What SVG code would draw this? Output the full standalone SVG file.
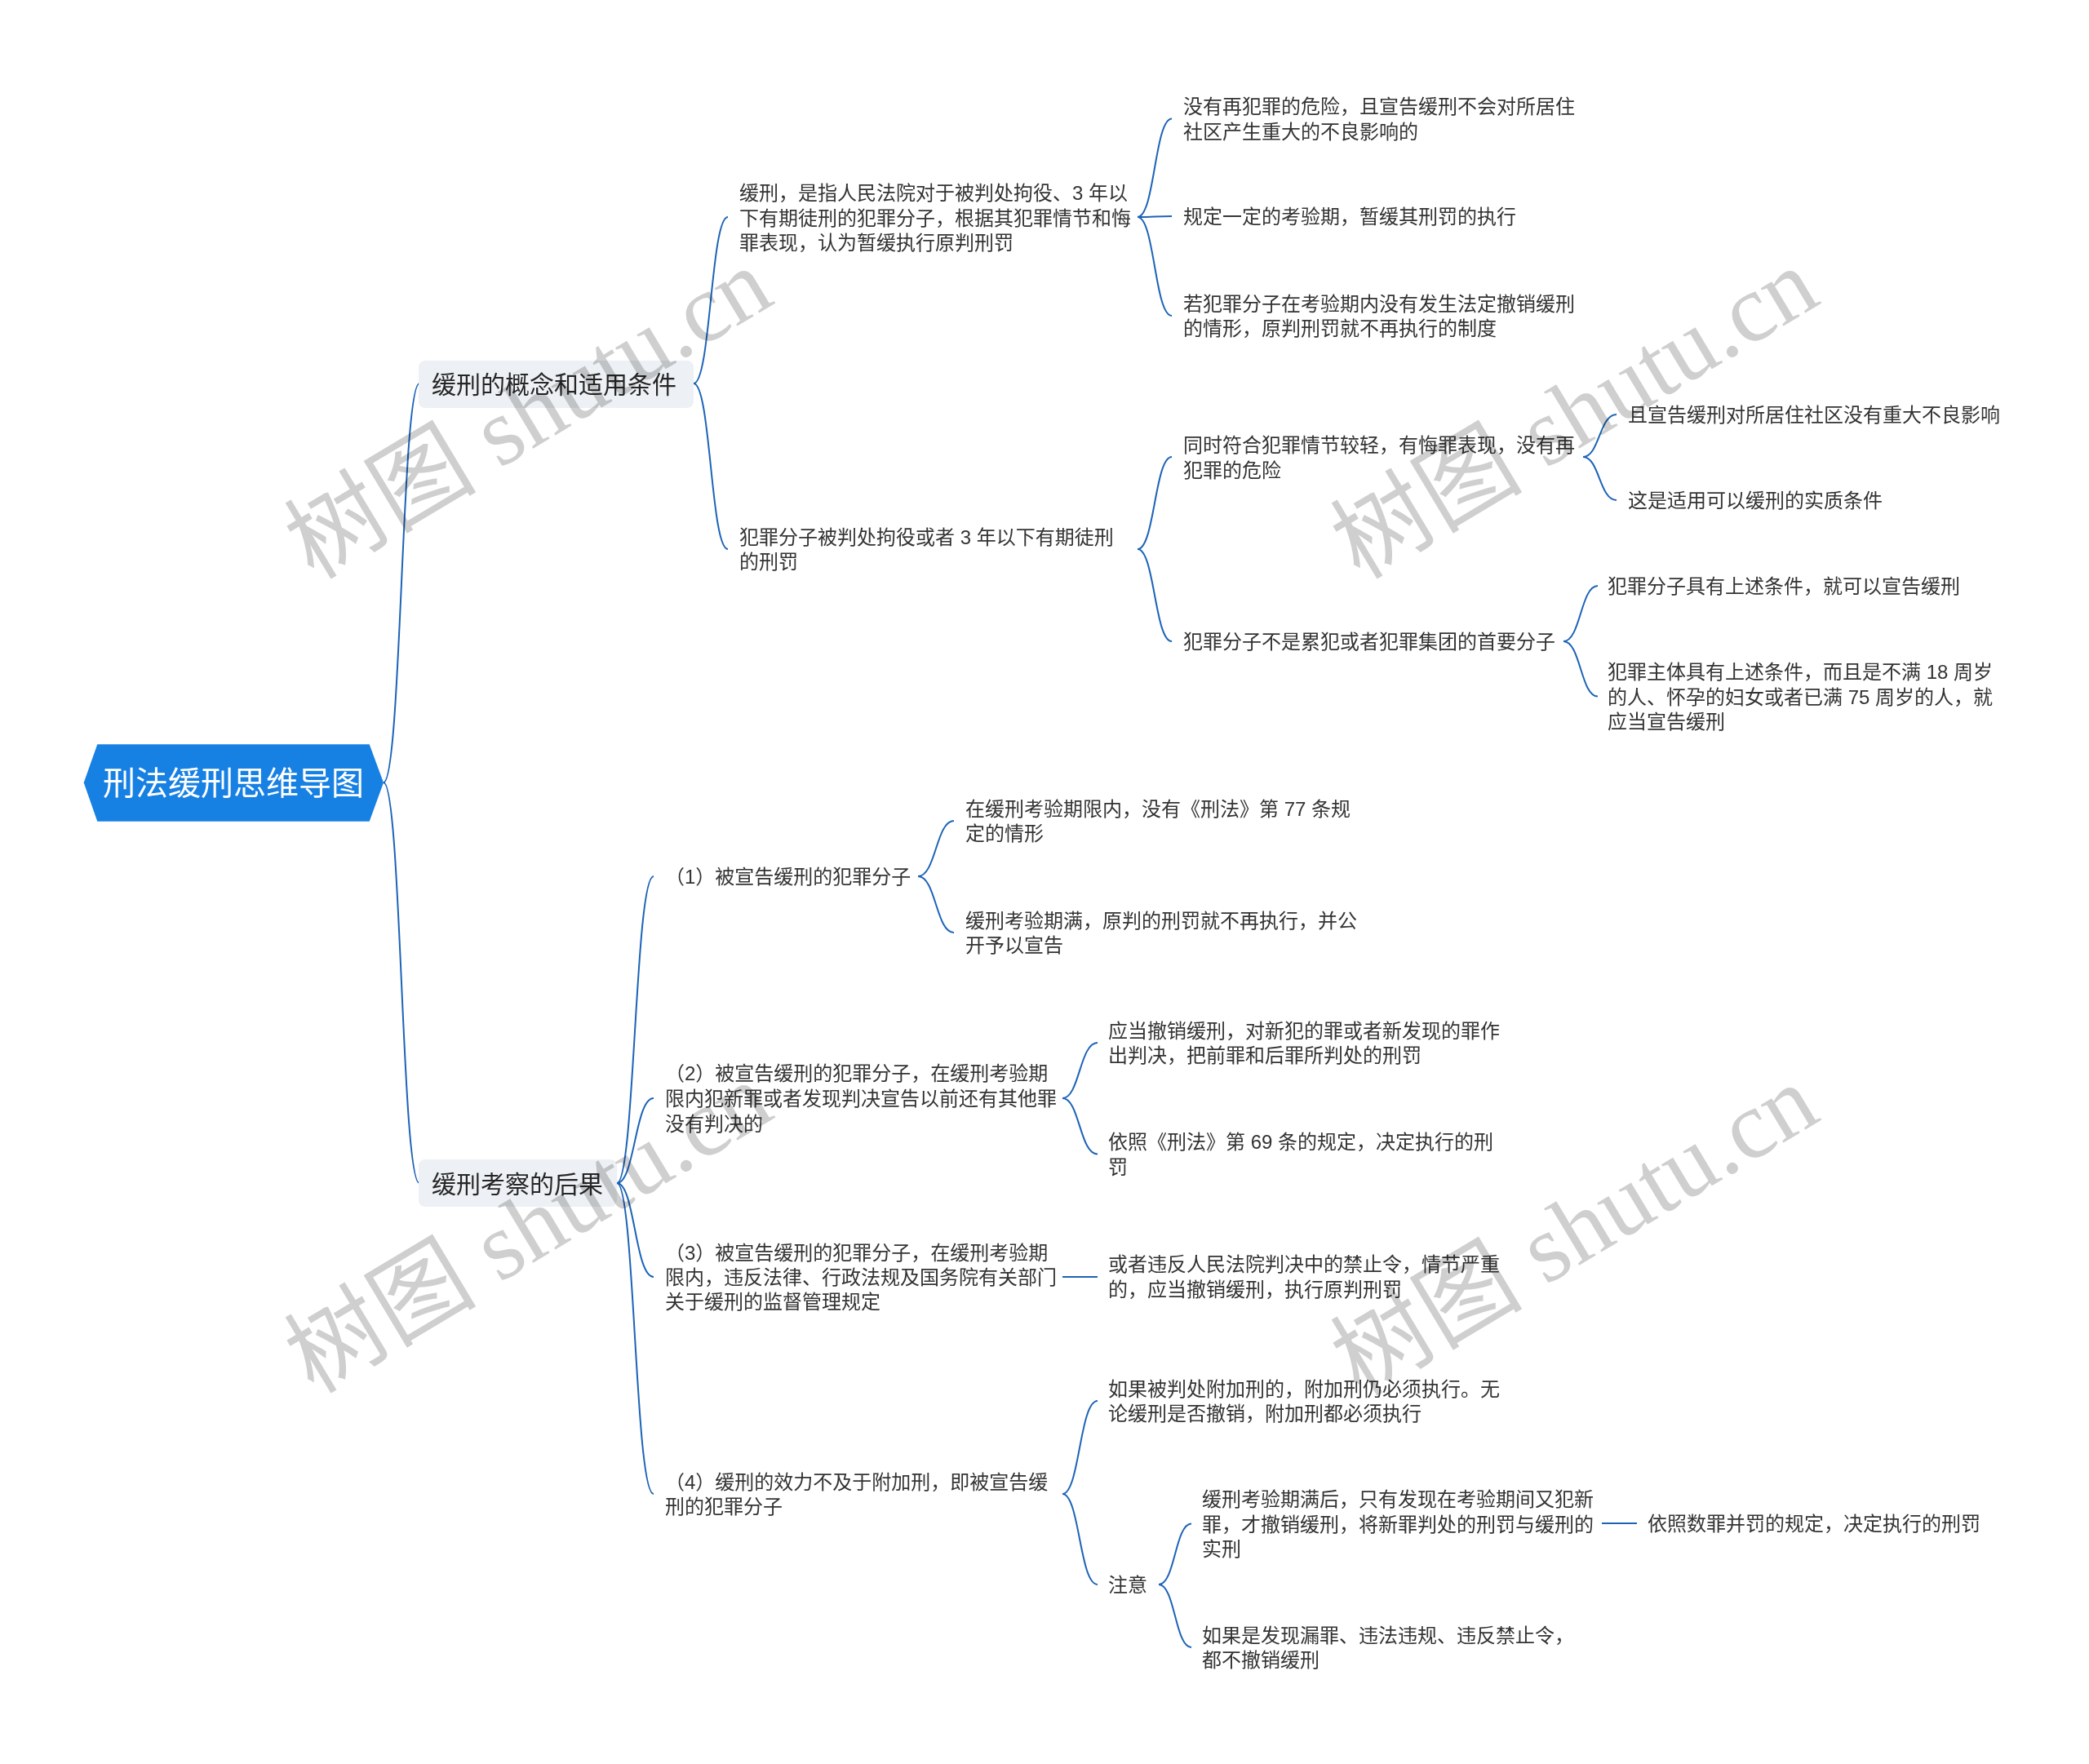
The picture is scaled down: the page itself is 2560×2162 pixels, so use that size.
<svg xmlns="http://www.w3.org/2000/svg" width="2560" height="2162" viewBox="0 0 2560 2162">
<style>
.t{font-family:'Liberation Sans','Noto Sans CJK SC',sans-serif;font-size:24px;fill:#333}
.b{font-family:'Liberation Sans','Noto Sans CJK SC',sans-serif;font-size:30px;fill:#262626}
.r{font-family:'Liberation Sans','Noto Sans CJK SC',sans-serif;font-size:40px;fill:#fff}
.c{fill:none;stroke:#1c63b7;stroke-width:2}
.br{fill:#edf0f4}
.wm{font-family:'Liberation Serif','Noto Sans CJK SC',serif;font-size:118px;fill:#cfcfcf;mix-blend-mode:multiply}
</style>
<rect width="2560" height="2162" fill="#fff"/>
<g id="connectors">
<path class="c" d="M470 959 C492 959 492 470 514 470"/>
<path class="c" d="M470 959 C492 959 492 1450 514 1450"/>
<path class="c" d="M850 470 C871 470 871 266 892 266"/>
<path class="c" d="M850 470 C871 470 871 673 892 673"/>
<path class="c" d="M1394 266 C1415 266 1415 145.5 1436 145.5"/>
<path class="c" d="M1394 266 C1415 266 1415 265 1436 265"/>
<path class="c" d="M1394 266 C1415 266 1415 387 1436 387"/>
<path class="c" d="M1394 673 C1415 673 1415 560 1436 560"/>
<path class="c" d="M1394 673 C1415 673 1415 786 1436 786"/>
<path class="c" d="M1940 560 C1960 560 1960 508 1981 508"/>
<path class="c" d="M1940 560 C1960 560 1960 613 1981 613"/>
<path class="c" d="M1916 786 C1937 786 1937 718 1958 718"/>
<path class="c" d="M1916 786 C1937 786 1937 853.5 1958 853.5"/>
<path class="c" d="M756 1450 C778 1450 778 1074 801 1074"/>
<path class="c" d="M756 1450 C778 1450 778 1346 801 1346"/>
<path class="c" d="M756 1450 C778 1450 778 1565 801 1565"/>
<path class="c" d="M756 1450 C778 1450 778 1831 801 1831"/>
<path class="c" d="M1125 1074 C1147 1074 1147 1006 1169 1006"/>
<path class="c" d="M1125 1074 C1147 1074 1147 1143 1169 1143"/>
<path class="c" d="M1302 1346 C1323 1346 1323 1278 1345 1278"/>
<path class="c" d="M1302 1346 C1323 1346 1323 1414.5 1345 1414.5"/>
<path class="c" d="M1302 1565 L1345 1565"/>
<path class="c" d="M1302 1831 C1323 1831 1323 1717 1345 1717"/>
<path class="c" d="M1302 1831 C1323 1831 1323 1942 1345 1942"/>
<path class="c" d="M1420 1942 C1440 1942 1440 1867.5 1460 1867.5"/>
<path class="c" d="M1420 1942 C1440 1942 1440 2019 1460 2019"/>
<path class="c" d="M1963 1867 L2006 1867"/>
</g>
<g id="root">
<polygon points="102.7,959.3 119.3,912.3 452.7,912.3 470,959.3 452.7,1006.7 119.3,1006.7" fill="#1780e3"/>
<text class="r" x="286" y="974" text-anchor="middle">刑法缓刑思维导图</text>
</g>
<g id="b1">
<rect class="br" x="513" y="442" width="337" height="58" rx="8"/>
<text class="b" x="529" y="481.5">缓刑的概念和适用条件</text>
</g>
<g id="b2">
<rect class="br" x="513" y="1421" width="243" height="58" rx="8"/>
<text class="b" x="529" y="1461.5">缓刑考察的后果</text>
</g>
<g id="nA"><text class="t"><tspan x="906" y="245">缓刑，是指人民法院对于被判处拘役、3 年以</tspan><tspan x="906" y="275.5">下有期徒刑的犯罪分子，根据其犯罪情节和悔</tspan><tspan x="906" y="306">罪表现，认为暂缓执行原判刑罚</tspan></text></g>
<g id="nB"><text class="t"><tspan x="906" y="667">犯罪分子被判处拘役或者 3 年以下有期徒刑</tspan><tspan x="906" y="697">的刑罚</tspan></text></g>
<g id="nA1"><text class="t"><tspan x="1450" y="139">没有再犯罪的危险，且宣告缓刑不会对所居住</tspan><tspan x="1450" y="170">社区产生重大的不良影响的</tspan></text></g>
<g id="nA2"><text class="t" x="1450" y="274">规定一定的考验期，暂缓其刑罚的执行</text></g>
<g id="nA3"><text class="t"><tspan x="1450" y="381">若犯罪分子在考验期内没有发生法定撤销缓刑</tspan><tspan x="1450" y="411">的情形，原判刑罚就不再执行的制度</tspan></text></g>
<g id="nB1"><text class="t"><tspan x="1450" y="554">同时符合犯罪情节较轻，有悔罪表现，没有再</tspan><tspan x="1450" y="585">犯罪的危险</tspan></text></g>
<g id="nB2"><text class="t" x="1450" y="795">犯罪分子不是累犯或者犯罪集团的首要分子</text></g>
<g id="nB1a"><text class="t" x="1995" y="517">且宣告缓刑对所居住社区没有重大不良影响</text></g>
<g id="nB1b"><text class="t" x="1995" y="622">这是适用可以缓刑的实质条件</text></g>
<g id="nB2a"><text class="t" x="1970" y="727">犯罪分子具有上述条件，就可以宣告缓刑</text></g>
<g id="nB2b"><text class="t"><tspan x="1970" y="832">犯罪主体具有上述条件，而且是不满 18 周岁</tspan><tspan x="1970" y="862.5">的人、怀孕的妇女或者已满 75 周岁的人，就</tspan><tspan x="1970" y="893">应当宣告缓刑</tspan></text></g>
<g id="nC1"><text class="t" x="815" y="1083">（1）被宣告缓刑的犯罪分子</text></g>
<g id="nC1a"><text class="t"><tspan x="1183" y="1000">在缓刑考验期限内，没有《刑法》第 77 条规</tspan><tspan x="1183" y="1030">定的情形</tspan></text></g>
<g id="nC1b"><text class="t"><tspan x="1183" y="1137">缓刑考验期满，原判的刑罚就不再执行，并公</tspan><tspan x="1183" y="1167">开予以宣告</tspan></text></g>
<g id="nC2"><text class="t"><tspan x="815" y="1324">（2）被宣告缓刑的犯罪分子，在缓刑考验期</tspan><tspan x="815" y="1355">限内犯新罪或者发现判决宣告以前还有其他罪</tspan><tspan x="815" y="1386">没有判决的</tspan></text></g>
<g id="nC2a"><text class="t"><tspan x="1358" y="1271.5">应当撤销缓刑，对新犯的罪或者新发现的罪作</tspan><tspan x="1358" y="1302">出判决，把前罪和后罪所判处的刑罚</tspan></text></g>
<g id="nC2b"><text class="t"><tspan x="1358" y="1408">依照《刑法》第 69 条的规定，决定执行的刑</tspan><tspan x="1358" y="1439">罚</tspan></text></g>
<g id="nC3"><text class="t"><tspan x="815" y="1544">（3）被宣告缓刑的犯罪分子，在缓刑考验期</tspan><tspan x="815" y="1574">限内，违反法律、行政法规及国务院有关部门</tspan><tspan x="815" y="1604">关于缓刑的监督管理规定</tspan></text></g>
<g id="nC3a"><text class="t"><tspan x="1358" y="1558">或者违反人民法院判决中的禁止令，情节严重</tspan><tspan x="1358" y="1589">的，应当撤销缓刑，执行原判刑罚</tspan></text></g>
<g id="nC4"><text class="t"><tspan x="815" y="1825">（4）缓刑的效力不及于附加刑，即被宣告缓</tspan><tspan x="815" y="1855">刑的犯罪分子</tspan></text></g>
<g id="nC4a"><text class="t"><tspan x="1358" y="1711">如果被判处附加刑的，附加刑仍必须执行。无</tspan><tspan x="1358" y="1741">论缓刑是否撤销，附加刑都必须执行</tspan></text></g>
<g id="nC4b"><text class="t" x="1358" y="1951">注意</text></g>
<g id="nC4b1"><text class="t"><tspan x="1473" y="1846">缓刑考验期满后，只有发现在考验期间又犯新</tspan><tspan x="1473" y="1877">罪，才撤销缓刑，将新罪判处的刑罚与缓刑的</tspan><tspan x="1473" y="1907">实刑</tspan></text></g>
<g id="nC4b1a"><text class="t" x="2019" y="1876">依照数罪并罚的规定，决定执行的刑罚</text></g>
<g id="nC4b2"><text class="t"><tspan x="1473" y="2013">如果是发现漏罪、违法违规、违反禁止令，</tspan><tspan x="1473" y="2043">都不撤销缓刑</tspan></text></g>
<g id="watermark">
<text class="wm" x="668" y="541" text-anchor="middle" transform="rotate(-31 668 541)">树图 shutu.cn</text>
<text class="wm" x="1950" y="541" text-anchor="middle" transform="rotate(-31 1950 541)">树图 shutu.cn</text>
<text class="wm" x="668" y="1539" text-anchor="middle" transform="rotate(-31 668 1539)">树图 shutu.cn</text>
<text class="wm" x="1950" y="1542" text-anchor="middle" transform="rotate(-31 1950 1542)">树图 shutu.cn</text>
</g>
</svg>
